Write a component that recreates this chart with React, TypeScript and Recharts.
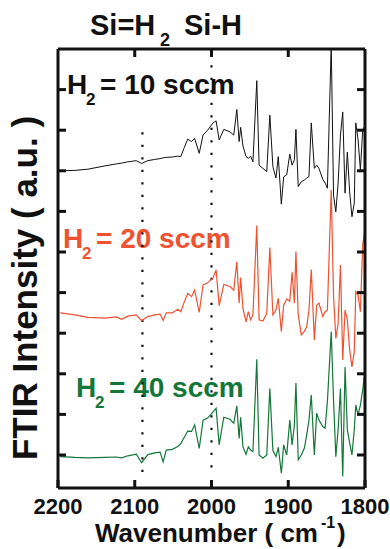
import { useEffect, useState } from "react";
import { LineChart, Line, XAxis, YAxis, ReferenceLine } from "recharts";

// FTIR spectra, offset vertically (a.u.), sampled on a shared wavenumber grid
const wavenumber = [
  2197, 2178, 2161, 2139, 2124, 2117, 2109, 2098, 2091, 2083, 2074, 2067, 2063, 2059, 2051, 2044, 2040,
  2036, 2031, 2026, 2022, 2016, 2011, 2005, 1998, 1994, 1990, 1984, 1976, 1971, 1967, 1964, 1962,
  1959, 1955, 1952, 1949, 1946, 1941, 1938, 1933, 1928, 1924, 1920, 1916, 1913, 1909, 1906, 1902,
  1898, 1895, 1892, 1890, 1887, 1883, 1879, 1876, 1873, 1870, 1866, 1863, 1860, 1855, 1852, 1849,
  1844, 1841, 1838, 1835, 1832, 1829, 1826, 1823, 1820, 1817, 1814, 1812, 1809, 1806, 1803, 1801,
];

const h2_10 = [
  7.0, 7.01, 7.04, 7.12, 7.17, 7.19, 7.22, 7.25, 7.18, 7.25, 7.28, 7.3, 7.32, 7.33, 7.34, 7.36, 7.35,
  7.55, 7.78, 7.72, 7.8, 7.43, 7.88, 8.0, 8.18, 8.23, 7.76, 8.02, 7.96, 7.88, 8.51, 7.72, 8.07,
  7.61, 7.35, 7.31, 7.36, 7.22, 9.22, 7.14, 7.06, 6.98, 8.37, 7.1, 6.82, 7.35, 6.18, 6.85, 6.9,
  7.41, 7.14, 7.27, 8.02, 6.61, 6.73, 6.77, 6.82, 6.86, 8.18, 7.06, 7.14, 7.06, 6.79, 6.7, 6.57,
  10.12, 6.4, 5.99, 6.7, 7.88, 8.45, 6.45, 7.46, 6.48, 5.87, 6.2, 8.18, 7.76, 7.02, 8.0, 8.08,
];

const h2_20 = [
  3.5, 3.45, 3.39, 3.37, 3.4, 3.34, 3.42, 3.45, 3.31, 3.41, 3.45, 3.47, 3.31, 3.5, 3.5, 3.59, 3.53,
  3.74, 3.98, 3.9, 4.06, 3.51, 4.19, 4.24, 4.36, 4.56, 3.68, 4.2, 4.15, 4.06, 4.76, 3.74, 4.37,
  3.61, 3.28, 3.53, 3.33, 3.45, 5.65, 3.33, 3.3, 3.49, 5.11, 3.45, 3.57, 3.86, 3.04, 3.69, 3.84,
  3.79, 4.5, 3.74, 5.01, 3.45, 2.96, 3.05, 3.15, 3.57, 4.57, 2.83, 3.69, 3.74, 3.41, 3.53, 3.57,
  6.53, 3.94, 2.87, 3.24, 4.68, 2.34, 3.57, 3.33, 2.59, 2.17, 2.54, 4.02, 3.94, 3.53, 5.17, 5.42,
];

const h2_40 = [
  -0.04, -0.06, -0.07, -0.06, -0.05, -0.07, -0.02, 0.02, -0.19, 0.01, 0.05, 0.07, -0.17, 0.12, 0.14, 0.21, 0.28,
  0.42, 0.59, 0.58, 0.74, 0.16, 0.86, 0.91, 1.06, 1.15, 0.25, 0.93, 0.88, 0.78, 1.21, 0.41, 0.93,
  0.2, 0.02, 0.2, 0.12, 0.08, 2.36, 0.0, -0.08, 0.0, 1.64, 0.11, -0.04, 0.19, -0.45, 0.25, 0.0,
  0.86, 0.25, 0.74, 1.77, -0.12, 0.0, 0.17, 0.49, 0.86, 1.48, 0.0, 1.03, 0.86, 0.7, 0.66, 1.31,
  3.04, 1.35, -0.04, 0.62, 1.64, -0.53, 2.17, 0.62, 0.3, 0.0, 0.62, 1.23, 0.99, 1.23, 1.6, 1.93,
];

const xDomain = [1800, 2200];
const yDomain = [-0.813, 10];
const xTicks = [2200, 2100, 2000, 1900, 1800];
const innerXTicks = [2100, 2000, 1900];
const yTicks = [0, 1, 2, 3, 4, 5, 6, 7, 8, 9];

// Si=H2 and Si-H band positions (dotted markers)
const bandSiH2 = 2090;
const bandSiH = 2000;

const FONT = "'Liberation Sans', Arial, Helvetica, sans-serif";
const RED = "#ef5230";
const GREEN = "#14773a";

const rows = wavenumber.map((wn, i) => ({
  wn,
  h10: h2_10[i],
  h20: h2_20[i],
  h40: h2_40[i],
}));

const noLabel = () => "";

function FlowLabel({ x, y, color, flow }: { x: number; y: number; color: string; flow: number }) {
  return (
    <g fill={color} fontFamily={FONT} fontWeight="bold">
      <text x={x} y={y} fontSize={28}>H</text>
      <text x={x + 19} y={y + 11} fontSize={17}>2</text>
      <text x={x + 33} y={y} fontSize={28}>= {flow} sccm</text>
    </g>
  );
}

export default function App() {
  // the axes only settle after a second render pass, so nudge one
  const [pass, setPass] = useState(0);
  useEffect(() => {
    const a = setTimeout(() => setPass(1), 60);
    const b = setTimeout(() => setPass(2), 250);
    return () => {
      clearTimeout(a);
      clearTimeout(b);
    };
  }, []);

  const axisLine = { stroke: "#111", strokeWidth: 3 };
  const tickLine = { stroke: "#111", strokeWidth: 3 };

  return (
    <div data-pass={pass} style={{ position: "absolute", left: 0, top: 0, width: 390, height: 549 }}>
      <svg width={390} height={549} style={{ position: "absolute", left: 0, top: 0 }}>
        <g fill="#111" fontFamily={FONT} fontWeight="bold">
          <text x={90} y={35} fontSize={29}>Si=H</text>
          <text x={160} y={46} fontSize={18}>2</text>
          <text x={184} y={35} fontSize={29}>Si-H</text>
          <text x={37} y={288} fontSize={35} textAnchor="middle" transform="rotate(-90 37 288)">
            FTIR Intensity ( a.u. )
          </text>
          <text x={95} y={542} fontSize={26}>Wavenumber ( cm</text>
          <text x={321} y={528} fontSize={16}>-1</text>
          <text x={337} y={542} fontSize={26}>)</text>
        </g>
        <FlowLabel x={67} y={94} color="#111" flow={10} />
        <FlowLabel x={63} y={248} color={RED} flow={20} />
        <FlowLabel x={76} y={397} color={GREEN} flow={40} />
      </svg>
      <div style={{ position: "absolute", left: 0, top: 0 }}>
        <LineChart width={390} height={549} data={rows} margin={{ top: 0, right: 0, bottom: 0, left: 0 }}>
          <XAxis
            xAxisId="b"
            dataKey="wn"
            type="number"
            domain={xDomain}
            reversed
            allowDataOverflow
            ticks={xTicks}
            height={61}
            axisLine={axisLine}
            tickLine={tickLine}
            tickSize={-8}
            tickMargin={18}
            tick={{ fontSize: 22, fontWeight: 700, fill: "#111", fontFamily: FONT }}
          />
          <XAxis
            xAxisId="t"
            orientation="top"
            dataKey="wn"
            type="number"
            domain={xDomain}
            reversed
            allowDataOverflow
            ticks={innerXTicks}
            height={49}
            axisLine={axisLine}
            tickLine={tickLine}
            tickSize={-8}
            tickFormatter={noLabel}
          />
          <YAxis
            yAxisId="l"
            type="number"
            domain={yDomain}
            allowDataOverflow
            ticks={yTicks}
            width={58}
            axisLine={axisLine}
            tickLine={tickLine}
            tickSize={-8}
            tickFormatter={noLabel}
          />
          <YAxis
            yAxisId="r"
            orientation="right"
            type="number"
            domain={yDomain}
            allowDataOverflow
            ticks={yTicks}
            width={25}
            axisLine={axisLine}
            tickLine={tickLine}
            tickSize={-8}
            tickFormatter={noLabel}
          />
          <ReferenceLine
            xAxisId="b"
            yAxisId="l"
            segment={[{ x: bandSiH2, y: 7.95 }, { x: bandSiH2, y: -0.55 }]}
            stroke="#111"
            strokeWidth={2.2}
            strokeDasharray="2.2 10.3"
          />
          <ReferenceLine
            xAxisId="b"
            yAxisId="l"
            segment={[{ x: bandSiH, y: 9.6 }, { x: bandSiH, y: -0.55 }]}
            stroke="#111"
            strokeWidth={2.2}
            strokeDasharray="2.2 10.3"
          />
          <Line xAxisId="b" yAxisId="l" type="linear" dataKey="h10" stroke="#111" strokeWidth={1} dot={false} isAnimationActive={false} />
          <Line xAxisId="b" yAxisId="l" type="linear" dataKey="h20" stroke={RED} strokeWidth={1.2} dot={false} isAnimationActive={false} />
          <Line xAxisId="b" yAxisId="l" type="linear" dataKey="h40" stroke={GREEN} strokeWidth={1.2} dot={false} isAnimationActive={false} />
        </LineChart>
      </div>
    </div>
  );
}
